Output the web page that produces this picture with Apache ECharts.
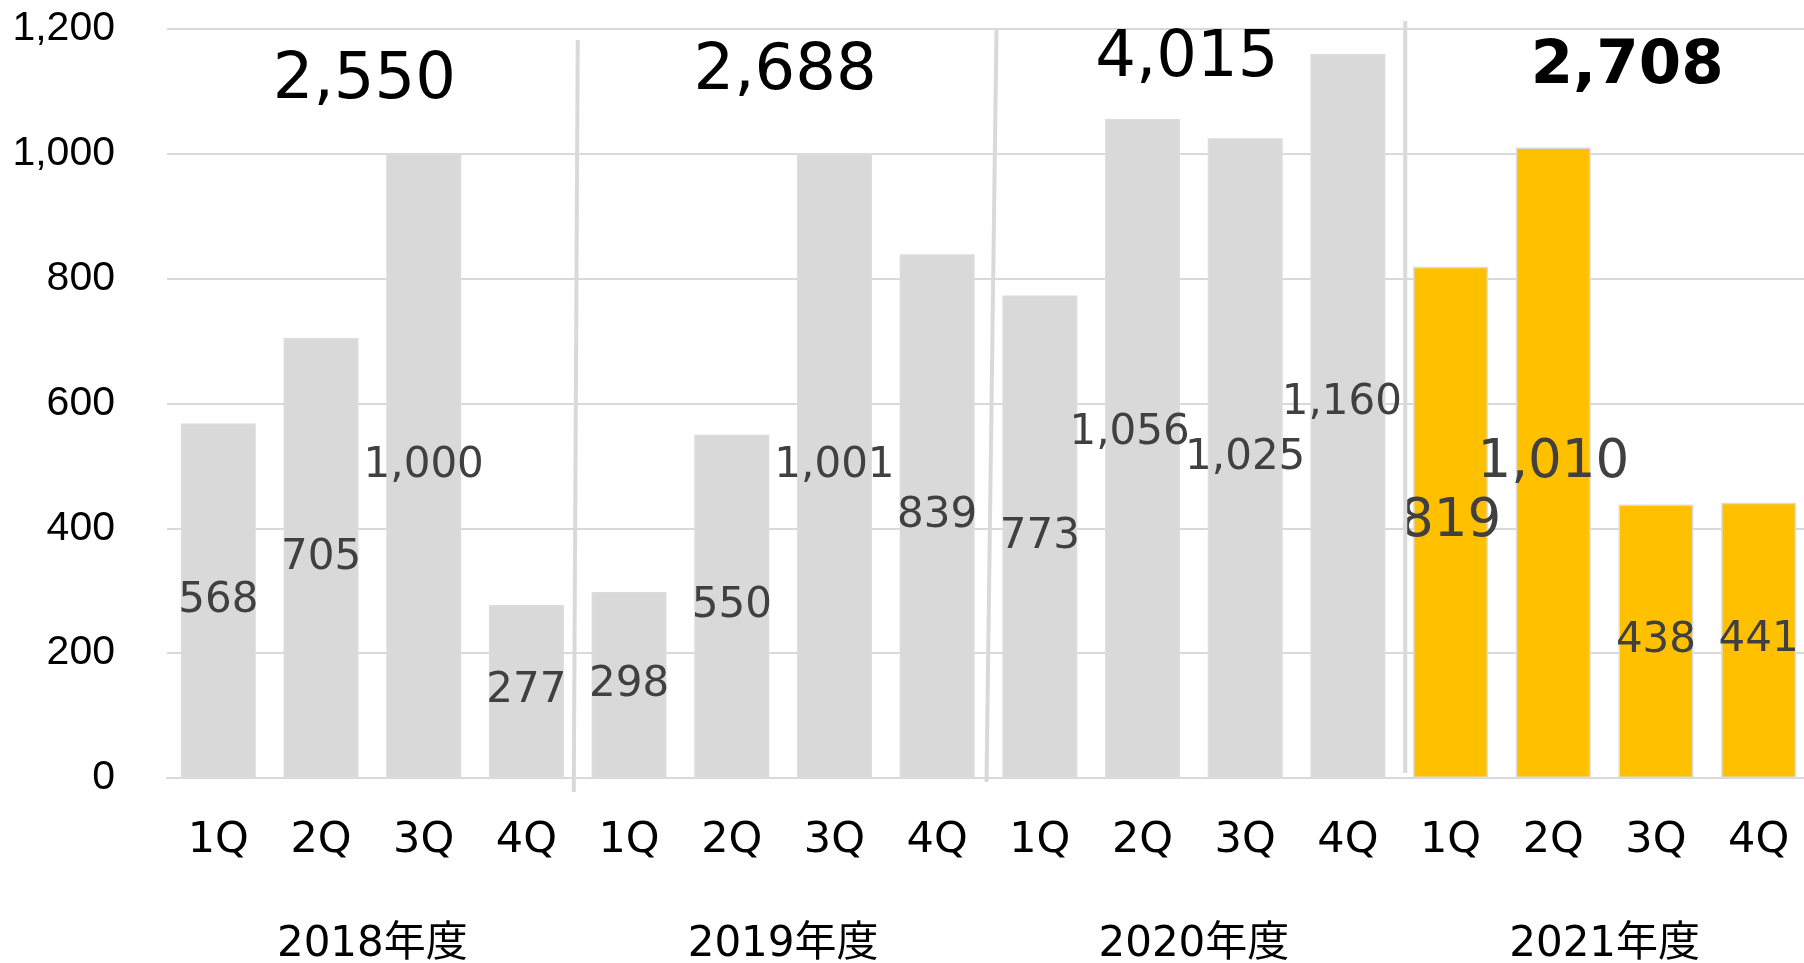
<!DOCTYPE html>
<html>
<head>
<meta charset="utf-8">
<script src="https://cdn.jsdelivr.net/npm/echarts@6/dist/echarts.min.js"></script>
<style>
html, body { margin: 0; padding: 0; background: #fff; }
#chart { width: 1804px; height: 963px; }
</style>
</head>
<body>
<div id="chart"></div>
<script>
// データ
var quarters = ['1Q', '2Q', '3Q', '4Q'];
var years = ['2018年度', '2019年度', '2020年度', '2021年度'];
var sales = [568, 705, 1000, 277, 298, 550, 1001, 839, 773, 1056, 1025, 1160, 819, 1010, 438, 441];
var yearTotals = [2550, 2688, 4015, 2708];

var fmt = function (n) { return n.toLocaleString('en-US'); };
// Meiryo に近い見た目 (Verdana系の数字 + CJK)
var jpFont = '"DejaVu Sans", "Noto Sans CJK JP", sans-serif';

// 16本のカテゴリ (年度 x 四半期)
var categories = [];
years.forEach(function () {
    quarters.forEach(function (q) { categories.push(q); });
});

// ラベル位置の微調整 (index: [dx, dy])
var labelNudge = { 9: [-13, -15], 11: [-6, -13] };

var barData = sales.map(function (v, i) {
    var yr = Math.floor(i / 4);
    var item = {
        value: v,
        itemStyle: { color: yr === 3 ? '#ffc000' : '#d9d9d9' }
    };
    var lab = {};
    if (yr === 3 && i % 4 < 2) lab.fontSize = 53;   // 2021年度 1Q/2Q は大きめ
    if (labelNudge[i]) lab.offset = labelNudge[i];
    item.label = lab;
    return item;
});

var totalStyle = { fontFamily: jpFont, fontSize: 64, color: '#000', lineHeight: 52 };

var myChart = echarts.init(document.getElementById('chart'));
myChart.setOption({
    animation: false,
    backgroundColor: '#fff',
    grid: { left: 167, width: 1643, top: 29, bottom: 185, outerBoundsMode: 'none', containLabel: false },
    xAxis: [{
        type: 'category',
        data: categories,
        axisLine: { show: true, lineStyle: { color: '#d9d9d9', width: 2 } },
        axisTick: { show: false },
        axisLabel: { color: '#000', fontFamily: jpFont, fontSize: 43, margin: 41 }
    }, {
        type: 'category',
        position: 'bottom',
        data: years,
        axisLine: { show: false },
        axisTick: { show: false },
        axisLabel: { color: '#000', fontFamily: jpFont, fontSize: 42, margin: 146 }
    }, {
        // 年度合計
        type: 'category',
        position: 'top',
        data: yearTotals,
        axisLine: { show: false },
        axisTick: { show: false },
        axisLabel: {
            inside: true,
            margin: 0,
            formatter: function (v, idx) { return '{t' + idx + '|' + fmt(+v) + '}'; },
            rich: {
                t0: Object.assign({}, totalStyle, { padding: [52, 16, 0, 0] }),
                t1: Object.assign({}, totalStyle, { padding: [34, 0, 0, 4] }),
                t2: Object.assign({}, totalStyle, { padding: [8, 14, 0, 0] }),
                t3: Object.assign({}, totalStyle, { fontSize: 61, fontWeight: 'bold', padding: [24, 0, 0, 45] })
            }
        }
    }],
    yAxis: {
        type: 'value',
        min: 0,
        max: 1200,
        interval: 200,
        axisLine: { show: false },
        axisTick: { show: false },
        splitLine: { lineStyle: { color: '#d9d9d9', width: 2 } },
        axisLabel: {
            color: '#000',
            fontFamily: '"Liberation Sans", Arial, sans-serif',
            fontSize: 41,
            margin: 52,
            formatter: function (v) { return fmt(v); }
        }
    },
    series: [{
        type: 'bar',
        xAxisIndex: 0,
        barCategoryGap: '27%',
        itemStyle: { borderColor: '#dcdcdc', borderWidth: 1.5 },
        label: {
            show: true,
            position: 'inside',
            color: '#404040',
            fontFamily: jpFont,
            fontSize: 42,
            formatter: function (p) { return fmt(p.value); }
        },
        data: barData
    }]
});

// 年度の区切り線
var sepTilt = [[0, -4, 11, 14], [8, -2, 0, 4], [6, 6, -8, -5]]; // [上dx, 下dx, 上dy, 下dy]
var yTop = myChart.convertToPixel({ yAxisIndex: 0 }, 1200);
var yBot = myChart.convertToPixel({ yAxisIndex: 0 }, 0);
var seps = [];
for (var k = 1; k < years.length; k++) {
    var a = myChart.convertToPixel({ xAxisIndex: 0 }, k * 4 - 1);
    var b = myChart.convertToPixel({ xAxisIndex: 0 }, k * 4);
    var xm = (a + b) / 2;
    var t = sepTilt[k - 1];
    seps.push({
        type: 'line',
        shape: { x1: xm + t[0], y1: yTop + t[2], x2: xm + t[1], y2: yBot + t[3] },
        style: { stroke: '#d9d9d9', lineWidth: 4 },
        z: 10
    });
}
myChart.setOption({ graphic: seps });
</script>
</body>
</html>
